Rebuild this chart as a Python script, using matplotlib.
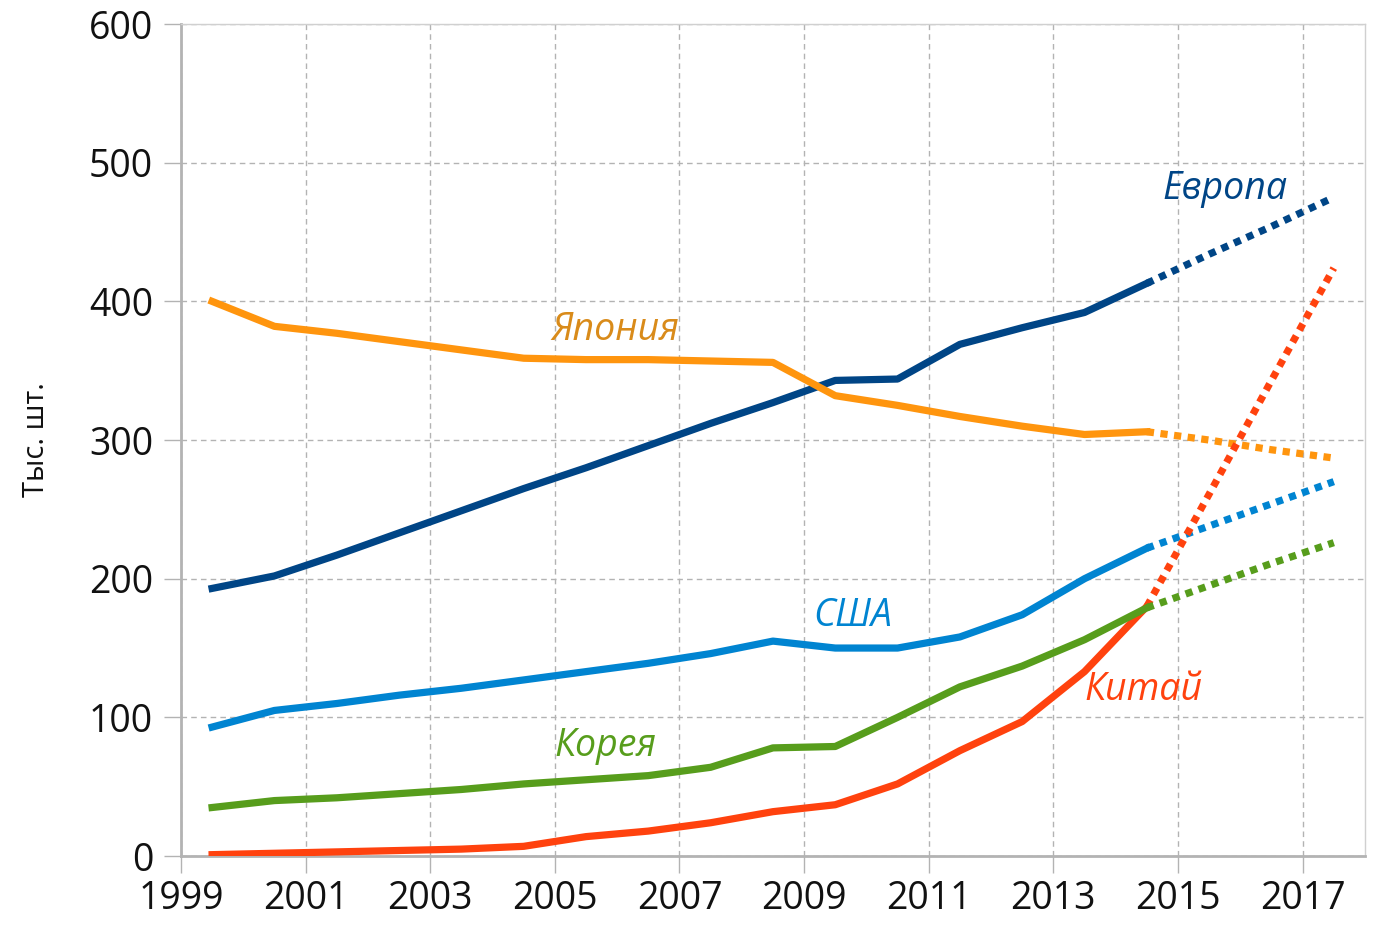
import numpy as np
import matplotlib
matplotlib.use("Agg")
import matplotlib.pyplot as plt

plt.rcParams['font.family'] = ['Open Sans', 'DejaVu Sans']

# годы (точки стоят в середине года)
years = [1999, 2000, 2001, 2002, 2003, 2004, 2005, 2006, 2007, 2008,
         2009, 2010, 2011, 2012, 2013, 2014, 2015, 2016, 2017]

europe = [193, 202, 217, 233, 249, 265, 280, 296, 312, 327,
          343, 344, 369, 381, 392, 413, 434, 454, 475]
japan = [400, 382, 377, 371, 365, 359, 358, 358, 357, 356,
         332, 325, 317, 310, 304, 306, 300, 293, 287]
usa = [93, 105, 110, 116, 121, 127, 133, 139, 146, 155,
       150, 150, 158, 174, 200, 222, 238, 254, 270]
korea = [35, 40, 42, 45, 48, 52, 55, 58, 64, 78,
         79, 100, 122, 137, 156, 179, 195, 211, 226]
china = [1, 2, 3, 4, 5, 7, 14, 18, 24, 32,
         37, 52, 76, 97, 133, 180, 261, 343, 424]

last_actual = 2014  # дальше прогноз (пунктир)

series = [
    ('Европа', europe, '#004586', '#004586', 2014.75, 481),
    ('Япония', japan, '#ff950e', '#d98b1a', 2004.95, 379),
    ('США', usa, '#0084d1', '#0084d1', 2009.15, 173),
    ('Китай', china, '#ff420e', '#ff420e', 2013.5, 120),
    ('Корея', korea, '#579d1c', '#579d1c', 2005.0, 79),
]

fig = plt.figure(figsize=(13.74, 9.32), dpi=100)
ax = fig.add_axes([0.1317, 0.0815, 0.8617, 0.8927])

x = np.array(years) + 0.5
k = years.index(last_actual)

for name, vals, col, tcol, tx, ty in series:
    v = np.array(vals)
    ax.plot(x[:k + 1], v[:k + 1], color=col, lw=5.2, solid_joinstyle='round', zorder=3)
    ax.plot(x[k:], v[k:], color=col, lw=5.2, dashes=(1.0, 0.9), zorder=3)
    ax.text(tx, ty, name, color=tcol, fontsize=27, style='italic',
            ha='left', va='center', zorder=4)

ax.set_xlim(1999, 2018)
ax.set_ylim(0, 600)
ax.set_xticks(range(1999, 2018, 2))
ax.set_yticks(range(0, 601, 100))

ax.grid(True, color='#b3b3b3', linestyle=(0, (4, 3)), lw=1)
ax.set_axisbelow(True)

for s in ['top', 'right']:
    ax.spines[s].set_color('#d0d0d0')
    ax.spines[s].set_linewidth(1)
for s in ['left', 'bottom']:
    ax.spines[s].set_color('#b3b3b3')
    ax.spines[s].set_linewidth(2)

ax.tick_params(axis='both', direction='out', length=12, width=1,
               color='#b3b3b3', labelsize=27, labelcolor='#111111')
ax.tick_params(axis='y', pad=8)
ax.tick_params(axis='x', pad=5)

ax.set_ylabel('Тыс. шт.', fontsize=21, color='#111111')
ax.yaxis.set_label_coords(-0.11, 0.5)

fig.savefig('out.png', dpi=100)
